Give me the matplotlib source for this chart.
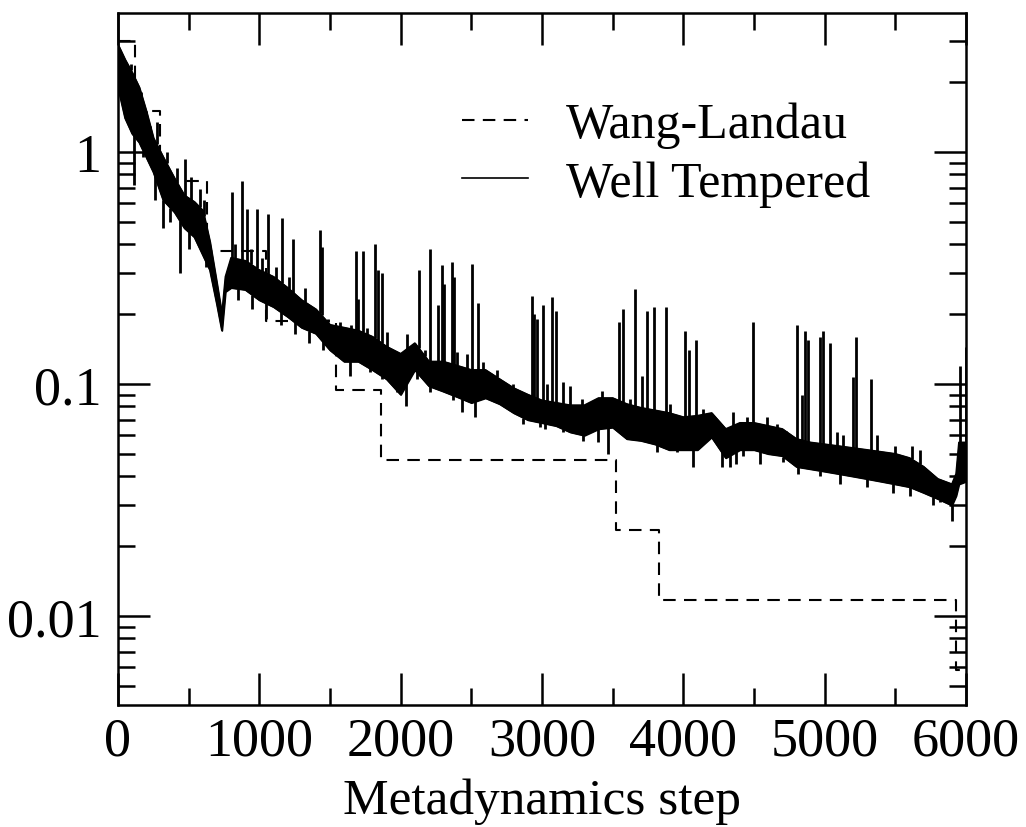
import numpy as np
import matplotlib
matplotlib.use("Agg")
import matplotlib.pyplot as plt
from matplotlib.ticker import FixedLocator, MultipleLocator, NullFormatter

plt.rcParams["font.family"] = ["Liberation Serif", "DejaVu Serif"]

# %%
## Wang-Landau: hill height halves at each change
wl_start = [0, 120, 295, 630, 1050, 1543, 1861, 3521, 3828, 5926]
wl_height = [3.0, 1.5, 0.75, 0.375, 0.1875, 0.09375, 0.046875,
             0.0234375, 0.01171875, 0.005859375]

## Well Tempered: band of the noisy curve (lower / upper edge)
wt_step = [0, 50, 100, 150, 200, 250, 320, 400, 470, 540, 600, 650, 700,
           735, 760, 800, 900, 1000, 1100, 1200, 1300, 1400, 1500, 1600,
           1700, 1800, 1900, 2000, 2100, 2200, 2300, 2400, 2500, 2600, 2700,
           2800, 2900, 3000, 3100, 3200, 3300, 3400, 3500, 3600, 3700, 3800,
           3900, 4000, 4100, 4200, 4300, 4400, 4500, 4600, 4700, 4800, 4900,
           5000, 5100, 5200, 5300, 5400, 5500, 5600, 5700, 5800, 5900, 5930,
           5950, 6000]
wt_low = [1.9, 1.4, 1.2, 1.1, 0.95, 0.82, 0.62, 0.55, 0.47, 0.43, 0.36,
          0.31, 0.22, 0.17, 0.25, 0.26, 0.255, 0.23, 0.215, 0.195, 0.175,
          0.165, 0.14, 0.125, 0.125, 0.115, 0.105, 0.09, 0.115, 0.098, 0.093,
          0.088, 0.083, 0.087, 0.082, 0.075, 0.07, 0.068, 0.066, 0.062, 0.06,
          0.064, 0.065, 0.058, 0.057, 0.055, 0.052, 0.052, 0.052, 0.059,
          0.048, 0.052, 0.052, 0.05, 0.049, 0.044, 0.043, 0.042, 0.041,
          0.04, 0.039, 0.038, 0.037, 0.036, 0.034, 0.032, 0.030, 0.033,
          0.037, 0.038]
wt_high = [2.9, 2.5, 2.2, 1.9, 1.5, 1.15, 0.95, 0.77, 0.65, 0.61, 0.56,
           0.41, 0.27, 0.20, 0.29, 0.35, 0.34, 0.31, 0.29, 0.26, 0.23, 0.21,
           0.18, 0.175, 0.17, 0.16, 0.145, 0.135, 0.15, 0.125, 0.125, 0.12,
           0.115, 0.115, 0.105, 0.096, 0.09, 0.085, 0.083, 0.081, 0.081,
           0.087, 0.087, 0.082, 0.079, 0.077, 0.075, 0.072, 0.073, 0.075,
           0.064, 0.068, 0.068, 0.066, 0.064, 0.058, 0.056, 0.055, 0.054,
           0.053, 0.052, 0.051, 0.05, 0.048, 0.044, 0.039, 0.037, 0.041,
           0.056, 0.056]

## spikes and small teeth above the band
spike_step = [477, 580, 804, 875, 910, 981, 1064, 1163, 1241, 1429, 1441,
              1684, 1700, 1731, 1818, 1842, 1870, 2130, 2207, 2267, 2290,
              2306, 2361, 2377, 2507, 2549, 2927, 2940, 2962, 3005, 3069,
              3099, 3547, 3575, 3660, 3710, 3745, 3792, 3877, 4012, 4040,
              4087, 4491, 4802, 4837, 4861, 4884, 4967, 4986, 5038, 5203,
              5222, 5328, 5960, 6000,
              90, 160, 200, 230, 275, 345, 420, 520, 610, 830, 940, 1020,
              1120, 1210, 1320, 1486, 1571, 1650, 1760, 1901, 2047, 2172,
              2396, 2470, 2585, 2679, 2797, 3033, 3151, 3198, 3281, 3423,
              3622, 3906, 4141, 4354, 4450, 4590, 4660, 4730, 5085, 5132,
              5368, 5498, 5616, 5675]
spike_top = [0.93, 0.69, 0.67, 0.75, 0.57, 0.57, 0.54, 0.52, 0.42, 0.46,
             0.39, 0.376, 0.232, 0.376, 0.40, 0.31, 0.30, 0.31, 0.38, 0.218,
             0.326, 0.27, 0.336, 0.29, 0.33, 0.223, 0.24, 0.20, 0.19, 0.218,
             0.236, 0.207, 0.185, 0.21, 0.257, 0.108, 0.207, 0.214, 0.214,
             0.17, 0.14, 0.154, 0.185, 0.18, 0.09, 0.17, 0.154, 0.16, 0.17,
             0.15, 0.107, 0.16, 0.105, 0.12, 0.145,
             2.4, 1.7, 1.45, 1.2, 1.35, 1.0, 0.85, 0.78, 0.62, 0.40, 0.38,
             0.35, 0.32, 0.29, 0.26, 0.19, 0.185, 0.18, 0.175, 0.167, 0.165,
             0.14, 0.137, 0.135, 0.124, 0.115, 0.10, 0.10, 0.102, 0.098,
             0.086, 0.093, 0.086, 0.082, 0.078, 0.076, 0.072, 0.072, 0.067,
             0.063, 0.062, 0.06, 0.06, 0.054, 0.054, 0.052]

## dips and small teeth below the band
dip_step = [110, 320, 440, 2040, 3470, 4330, 4370, 5900,
            180, 260, 370, 500, 620, 850, 950, 1050, 1150, 1250, 1350, 1450,
            1642, 1783, 1866, 1972, 2113, 2207, 2372, 2432, 2526, 2703, 2868,
            2986, 3021, 3151, 3293, 3399, 3622, 3811, 3953, 4071, 4271, 4420,
            4542, 4707, 4814, 4967, 5109, 5298, 5486, 5604, 5769, 5816]
dip_bottom = [0.72, 0.47, 0.30, 0.080, 0.050, 0.044, 0.045, 0.0257,
              0.95, 0.62, 0.50, 0.38, 0.32, 0.23, 0.21, 0.19, 0.18, 0.165,
              0.15, 0.14, 0.108, 0.113, 0.105, 0.092, 0.105, 0.092, 0.085,
              0.076, 0.072, 0.086, 0.067, 0.065, 0.064, 0.062, 0.057, 0.056,
              0.061, 0.051, 0.051, 0.044, 0.044, 0.049, 0.045, 0.046, 0.041,
              0.040, 0.037, 0.036, 0.034, 0.033, 0.030, 0.031]

# %%
fig = plt.figure(figsize=(10.26, 8.28), dpi=100)
ax = fig.add_axes([0.115, 0.1473, 0.8265, 0.8357])

ax.step(wl_start + [6000], wl_height + [wl_height[-1]], where="post",
        color="black", lw=1.5, ls=(0, (6, 4)), label="Wang-Landau")

ax.fill_between(wt_step, wt_low, wt_high, color="black", lw=1.2)
ax.plot(wt_step, wt_high, color="black", lw=1.2, label="Well Tempered")
ax.plot(wt_step, wt_low, color="black", lw=1.2)
ax.vlines(spike_step, np.interp(spike_step, wt_step, wt_high), spike_top,
          color="black", lw=2.0)
ax.vlines(dip_step, dip_bottom, np.interp(dip_step, wt_step, wt_low),
          color="black", lw=2.0)

ax.set_yscale("log")
ax.set_xlim(0, 6000)
ax.set_ylim(0.00413, 3.97)

ax.xaxis.set_major_locator(MultipleLocator(1000))
ax.xaxis.set_minor_locator(MultipleLocator(500))
ax.yaxis.set_major_locator(FixedLocator([0.01, 0.1, 1]))
ax.set_yticklabels(["0.01", "0.1", "1"])
ax.yaxis.set_minor_locator(FixedLocator(
    [m * 10.0 ** e for e in (-3, -2, -1, 0) for m in range(2, 10)]))
ax.yaxis.set_minor_formatter(NullFormatter())

ax.tick_params(which="both", direction="in", top=True, right=True, width=1.8)
ax.tick_params(which="major", length=23, labelsize=39)
ax.tick_params(which="minor", length=12)
ax.tick_params(axis="x", pad=8)
ax.tick_params(axis="y", pad=12)
for s in ax.spines.values():
    s.set_linewidth(1.8)

ax.set_xlabel("Metadynamics step", fontsize=37, labelpad=8)

ax.legend(loc="upper left", bbox_to_anchor=(0.4057, 0.872), frameon=False,
          fontsize=36, handlelength=1.32, handletextpad=0.76,
          labelspacing=0.24, borderpad=0, borderaxespad=0)

fig.savefig("out.png", dpi=100)
